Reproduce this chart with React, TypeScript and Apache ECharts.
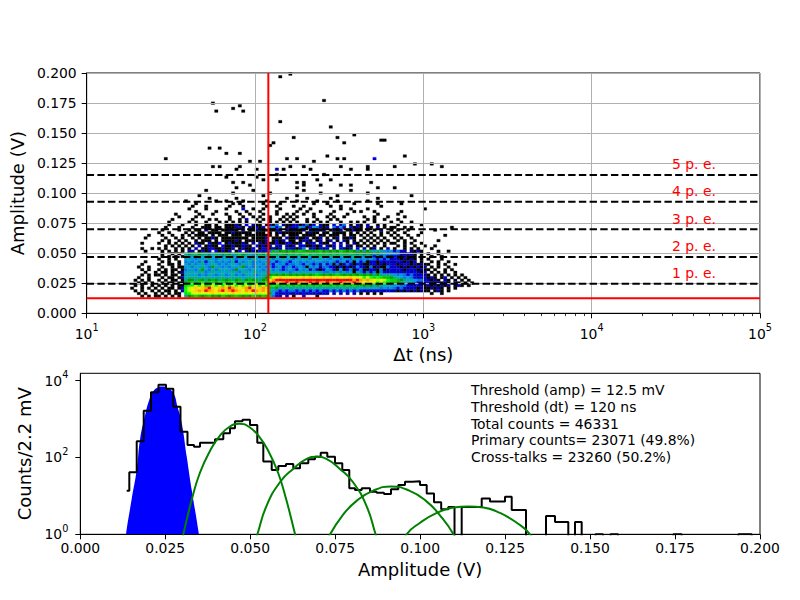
import React, { useEffect, useRef } from 'react';
import * as echarts from 'echarts';

const FONT = 'DejaVu Sans';

// ---------- top panel: 2D histogram (amplitude vs delta t) ----------
// rows listed from the highest amplitude bin (r40) down to r0; '.' = empty cell,
// '1'..'h' = colour level (black -> navy -> blue -> cyan -> green -> yellow -> red)
const HEAT_ROWS = [
  '.......... .......... ....1..... ........1. .......... ...1...... .......1..',
  '.......... .......... .......... ..1....... ...1...... ........1. .......... ..1.......',
  '.......... .......... ..1....... .......... .1........ .1........ ...1...... .......... .....1....',
  '.......... .......... .....1.... ...1...... ........1. ....1..... .1........ .....1....',
  '.......... ........1. .......1.. 1....1.... ..1....... .1.....1.. ...1...... ..1.......',
  '.......... .......... .1........ ..1.1..... .1....1... ......1... 1.......1. .....1.... ..1.......',
  '.......... .......... 1...1..... .1...1.... ..1..1.... 1..1...... .1..1..... ......1...',
  '.......... .........1 ....1..... 1....3..1. .1....1... ..1..1.... ....1..1.. ..1....... .........1',
  '.......... .......... .1.....1.. ...1..1... 1....1.... .1..1...1. ..1.....1. 1...1..... ..1.......',
  '.......... .....1.... ..1...1... 1...1..1.. .1...1..1. 1..1..1... .1....1... .....1.... .1........',
  '.......... ......1... .1.1...... .1...1..1. 1..1...1.1 .1....1... 1.1..1.... .1..1...1. ...1......',
  '.......... ....1..... 1....1.1.. .1..1.2..1 .1.1..1.1. 1...1..1.. .1.1...... ..1.1..1.. .1........',
  '.......... ...1.....1 .1..1...1. 1.1.1.1... 1..1.1.1.1 .1..1.1.1. 1...1..1.1 .1..1....1 ..1..1....',
  '.......... ...1...1.. .1..11.1.. 11121.3.21 1.1214.211 2312413.21 1.3.24.1.2 1.2..1.1.. .1......1. ..........',
  '.......... ..1...1... 1..111.11. 111231.212 12.4534.12 3254135421 2.4352.312 1.21.2.1.1 1..1.1.... .......1..',
  '.......... .1....1..1 .11.2.11.1 1211.2.112 2111121.21 2112.11212 .1212.1121 1.1.1.2..1 .1..1..... ..1.......',
  '.......... 1..1....1. 1.11.1111. 11211111.1 11.1.12111 111.1211.1 1.1111.1.1 .1.1..1.1. 1..1....1. ..........',
  '.......1.. .1..1..1.1 .1111.1.11 1.111.1111 1111.1.1.1 11.1111.11 .111.1.11. 1.1.1.1..1 .1..1..1.. .....1....',
  '......1... ..1..1.1.. 1.1.1121.1 1111111.11 112.111.21 12112.112. 1.12.1121. .1.1.1.1.. 1.1..1.... ..........',
  '.......... .1.1..1.1. .1.111.1.1 11121.1111 112.1212.1 1.1221.12. 12.1.21.1. 1.1.1.1.1. .1.1..1... ...1......',
  '.....1.... 1..1.1.1.1 .211.2113. 1211121.2. 2121131123 112.122.21 1.2.2.1.21 .1.1.1.1.1 1..1.1..1. ..........',
  '.......... ..1.1.1.1. 1.2.1211.3 11211221.3 1212.32.21 2.2311212. 212.2.21.1 1.1.1..1.. .1.1..1..1 ..1.......',
  '.....1..1. 1.1..1.1.1 .2.1123112 112.12113. 1321312.23 2134.23132 3.2.3212.3 .2.12.1.2. 1..1.1.1.. .1........',
  '......1... .1.1.1.1.2 2.1312.312 12.13.2121 3234978989 89a98989a8 9898a98987 8787676545 3432.2121. ...1..1...',
  '.......... .1..1.1.78 9a89786978 9879a89678 98a9a9a98a 9a9ab9a9a9 a9a9a99a98 9898787656 5432321.1. 1..1......',
  '.......... .1.1.1.165 5465645654 5645646545 5657565756 6567656576 5656565465 5454343432 3212121.1. .1..1.....',
  '.......... 1..1.1..56 5465675465 6574565476 5657465756 4565746565 5465455475 4545434342 3212121.1. 1...1.....',
  '......1... .1.1..1.45 4546356454 5463545645 4554534543 5545454554 4543452415 3412313232 2321212.1. .1.1..1...',
  '.....1.... 1..11.1.54 6457456545 4565475645 5464354534 4543543425 3414124313 2112312123 2123212121 1..1.1..1.',
  '....1..1.. .1..1.1156 4657548654 5465684546 4545345345 3454154524 4321313125 3214121142 3212121312 .1.1..1...',
  '.....1.1.. 1.1.11.145 5468546475 6548565465 5456454345 4354524213 5421513413 4113214123 2321232121 1.1..1.1..',
  '......1..1 .11.1.1256 6576457656 5675467567 5656565654 5656565654 4545454515 4343414323 3232323212 .1.1.1..1.',
  '.....1.1.1 1.1.11.156 5645465456 4564546564 5678989898 9898989a98 989a989898 9898787676 5454343232 1.1.1.1.1. 1......',
  '....1..1.. .1.11.1267 6756765767 5676756765 678bcdedcd dcdededcde dededcdedc cbcbaba998 7654543232 121.12.1.1 .1.......',
  '...1.1.1.. 1.1.11.178 8798789879 8978978989 789dfghggh ghghhgghgg hgghgghgfg fefedcdcba a987665443 2121.21.1. 1.1....',
  '....1.1.1. .1.11.1189 a9ab9aa9ba 9ab9a9bab9 9abfgfefgf fgfefgfgfe gfefgfefgf edcdcbcba9 9876554332 3212121.21 .1.1...',
  '...1.1..1. 1.1.1.11ab bcbcabcbcb cbcbcbcbcd bcbaba9a9a 9a9a9a9a9a a9a9a9a9a9 9898787665 5544332321 2121212.12 1.1....',
  '..1..1.1.1 .1.11.12bc dedefgedef egfedefged efe9786767 6767676767 7676767676 6565654545 4343232121 12121.1.1.',
  '...1.1..1. 1.11.1.2bc defegfedfg efgfedfegf efd7543434 4343434343 3434343434 3232323232 2121212121 1.121.1...',
  '....1.1..1 .1.1.11.ab cdcdcdedcd cdedcdcdce cdc8532323 2323232323 2.2.2.2.2. 1.1.1.1... .......... .1..1.....',
  '.....1.1.1 1.1.1.1.78 9a989a898a 989a9898a9 8a97432.2. 1..2...1.. .......... .......... ..........',
];
const HEAT_FIRST_COL = 11; // first column = log10 bin index (bins of 0.02 decade from 10 ns)
const LOG_BIN = 0.02;
const AMP_BIN_START = 0.0132;
const AMP_BIN = 0.0022;
const LEVEL_CHARS = '123456789abcdefgh';
const LEVEL_COLORS = [
  '#000000', '#0000aa', '#0000dd', '#0077dd', '#0099dd', '#00aaaa', '#00aa88', '#009900',
  '#00bb00', '#00dd00', '#00ff00', '#bbff00', '#eeee00', '#ffcc00', '#ff9900', '#ff0000', '#dd0000',
];
// isolated high-amplitude cells: [delta t (ns), amplitude (V), level]
const SPARSE_CELLS = [
  [160, 0.198, 1], [139, 0.196, 1], [55, 0.1753, 1], [59, 0.1675, 1], [83, 0.1725, 1], [74, 0.1703, 1],
  [87, 0.169, 1], [262, 0.177, 1], [139, 0.159, 1], [281, 0.155, 1], [53, 0.138, 1], [62, 0.137, 1],
  [83, 0.1335, 1], [67, 0.132, 1], [30, 0.128, 1], [95, 0.1266, 1], [106, 0.1274, 1], [130, 0.143, 1],
  [124, 0.139, 1], [169, 0.147, 1], [155, 0.128, 1], [177, 0.128, 1], [307, 0.146, 1], [340, 0.1426, 1],
  [381, 0.148, 1], [552, 0.1435, 1], [591, 0.144, 1], [792, 0.1316, 1], [1138, 0.1247, 1], [1274, 0.1224, 1],
  [505, 0.128, 3], [229, 0.1274, 1], [274, 0.13, 1], [307, 0.1288, 1], [336, 0.128, 1], [191, 0.1224, 1],
  [214, 0.119, 1], [256, 0.1163, 1], [132, 0.1205, 2], [149, 0.119, 1], [163, 0.1213, 1], [104, 0.121, 1],
  [55, 0.1224, 1], [62, 0.1213, 1], [76, 0.1205, 1], [83, 0.1213, 1], [321, 0.1224, 1], [368, 0.1205, 1],
  [472, 0.1213, 1], [472, 0.119, 1], [661, 0.1218, 1], [908, 0.1238, 1], [137, 0.115, 1], [136, 0.112, 1],
  [67, 0.1135, 1], [72.5, 0.1085, 1], [78.5, 0.105, 1], [104, 0.1135, 1], [111, 0.1108, 1], [179, 0.11, 1],
  [195, 0.1094, 1], [234, 0.112, 1], [281, 0.1108, 1], [321, 0.1075, 1], [245, 0.1075, 1], [368, 0.1066, 1],
  [483, 0.108, 1], [527, 0.104, 1], [661, 0.104, 1], [87, 0.108, 1], [95, 0.1075, 1], [179, 0.104, 1],
  [195, 0.1065, 1],
];
const PE_LEVELS = [0.0246, 0.0468, 0.07, 0.0928, 0.1152];
const PE_NAMES = ['1 p. e.', '2 p. e.', '3 p. e.', '4 p. e.', '5 p. e.'];
const PE_LABEL_DT = 30000;
const THRESHOLD_AMP = 0.0125;
const THRESHOLD_DT = 120;
const DT_DECADES = [1, 2, 3, 4, 5];
const MINOR_DT = [
  20, 30, 40, 50, 60, 70, 80, 90, 200, 300, 400, 500, 600, 700, 800, 900,
  2000, 3000, 4000, 5000, 6000, 7000, 8000, 9000, 20000, 30000, 40000, 50000, 60000, 70000, 80000, 90000,
];

// ---------- bottom panel: amplitude spectrum ----------
const HIST_X = [
  0.01365, 0.01442, 0.0166, 0.01866, 0.0208, 0.02301, 0.02522, 0.02737, 0.02948, 0.03154, 0.03346, 0.03522,
  0.03743, 0.03964, 0.04208, 0.04405, 0.04552, 0.04773, 0.04993, 0.05208, 0.05385, 0.05632, 0.05826, 0.06053,
  0.06267, 0.06465, 0.06709, 0.06906, 0.07074, 0.07268, 0.07495, 0.07709, 0.07915, 0.08083, 0.0828, 0.08524,
  0.08721, 0.08936, 0.09142, 0.09357, 0.09554, 0.09775, 0.09996, 0.10193, 0.10408, 0.10619, 0.10828, 0.11011,
  0.11222, 0.11811, 0.12055, 0.12497, 0.12694, 0.13115, 0.13704, 0.13968, 0.14359, 0.14556, 0.14753, 0.15159,
  0.1538, 0.15601, 0.15822, 0.17449, 0.17696, 0.19362, 0.19756,
];
const HIST_COUNTS = [
  13.7, 41, 265, 1650, 5000, 7800, 6100, 2100, 470, 211, 190, 243,
  243, 296, 425, 575, 870, 960, 700, 243, 78, 47, 60, 68,
  52, 71, 90, 105, 133, 105, 71, 47, 15.8, 14.2, 15.8, 12.9,
  12.1, 11.2, 14.9, 19.2, 23.4, 24, 19.2, 11.5, 6.8, 4.5, 5.1, 0,
  5.1, 8.6, 7.1, 9.5, 4.3, 0, 3.0, 2.1, 0, 2.1, 0, 1,
  0, 1, 0, 1, 0, 1, 0,
];
const PRIMARY_FIT = [
  [0.0128, 0.3], [0.01345, 1], [0.0151, 8], [0.0166, 48], [0.01757, 290], [0.019, 1180], [0.0203, 3200],
  [0.0215, 5300], [0.0228, 6600], [0.0242, 7000], [0.0256, 6400], [0.02737, 4770], [0.0286, 2100],
  [0.02984, 790], [0.0313, 107], [0.03278, 14.5], [0.0349, 1], [0.0356, 0.3],
];
const FIT_2PE = [
  [0.029, 0.35], [0.0303, 1], [0.0328, 8], [0.0352, 40], [0.0382, 150], [0.0411, 370], [0.044, 640],
  [0.0467, 755], [0.0495, 640], [0.0524, 370], [0.0553, 150], [0.0582, 40], [0.0606, 8], [0.0632, 1], [0.0645, 0.35],
];
const FIT_3PE = [
  [0.0505, 0.35], [0.0521, 1], [0.0548, 5.5], [0.0588, 23], [0.0627, 51], [0.0666, 92], [0.0695, 105],
  [0.0724, 92], [0.0763, 51], [0.0802, 23], [0.0842, 5.5], [0.0869, 1], [0.0885, 0.35],
];
const FIT_4PE = [
  [0.0715, 0.35], [0.0735, 1], [0.0774, 3.3], [0.0813, 7.4], [0.0862, 13.7], [0.0915, 17.5], [0.0968, 13.7],
  [0.1017, 7.4], [0.1056, 3.3], [0.1098, 1], [0.1118, 0.35],
];
const FIT_5PE = [
  [0.0935, 0.35], [0.096, 1], [0.1, 2.0], [0.1049, 3.6], [0.1098, 5.0], [0.1142, 5.3], [0.1186, 5.0],
  [0.1235, 3.6], [0.1284, 2.0], [0.1323, 1], [0.1348, 0.35],
];
const COUNT_DECADE_TICKS = [0, 2, 4];
const COUNT_MAX = 15500;
const INFO_LINES = [
  'Threshold (amp) = 12.5 mV',
  'Threshold (dt) = 120 ns',
  'Total counts = 46331',
  'Primary counts= 23071 (49.8%)',
  'Cross-talks = 23260 (50.2%)',
];

const lg = (c: number) => (c > 0 ? Math.log10(c) : -1);

function buildHeatCells() {
  const cells: number[][] = [];
  const n = HEAT_ROWS.length;
  HEAT_ROWS.forEach((row, k) => {
    const r = n - 1 - k;
    const s = row.replace(/ /g, '');
    for (let i = 0; i < s.length; i++) {
      const lv = LEVEL_CHARS.indexOf(s[i]);
      if (lv < 0) continue;
      const c = HEAT_FIRST_COL + i;
      cells.push([1 + LOG_BIN * c, 1 + LOG_BIN * (c + 1), AMP_BIN_START + AMP_BIN * r, AMP_BIN_START + AMP_BIN * (r + 1), lv]);
    }
  });
  SPARSE_CELLS.forEach(([dt, amp, lvl]) => {
    const c = Math.floor((Math.log10(dt) - 1) / LOG_BIN);
    const r = Math.floor((amp - AMP_BIN_START) / AMP_BIN);
    cells.push([1 + LOG_BIN * c, 1 + LOG_BIN * (c + 1), AMP_BIN_START + AMP_BIN * r, AMP_BIN_START + AMP_BIN * (r + 1), lvl - 1]);
  });
  return cells;
}

const tickFont = { fontFamily: FONT, fontSize: 13.9, color: '#000' };
const nameFont = { fontFamily: FONT, fontSize: 18, color: '#000' };
const powRich = {
  b: { fontFamily: FONT, fontSize: 13.9, color: '#000', lineHeight: 22 },
  s: { fontFamily: FONT, fontSize: 9.7, color: '#000', verticalAlign: 'top' as const },
};
const powFormatter = (v: number) => {
  if (Math.abs(v - Math.round(v)) > 1e-6) return '';
  return `{b|10}{s|${Math.round(v)}}`;
};
const gridLine = { show: true, lineStyle: { color: '#b0b0b0', width: 1 } };
const blackLine = { show: true, onZero: false, lineStyle: { color: '#000', width: 1 } };

function buildOption() {
  const heatCells = buildHeatCells();
  const logThrDt = Math.log10(THRESHOLD_DT);
  const peSeries = PE_LEVELS.map((lv) => ({
    type: 'line',
    xAxisIndex: 0,
    yAxisIndex: 0,
    data: [[DT_DECADES[0], lv], [DT_DECADES[DT_DECADES.length - 1], lv]],
    symbol: 'none',
    silent: true,
    z: 5,
    lineStyle: { color: '#000', width: 2, type: [7.4, 3.3] },
  }));
  const greenSeries = [FIT_2PE, FIT_3PE, FIT_4PE, FIT_5PE].map((pts) => ({
    type: 'line',
    xAxisIndex: 1,
    yAxisIndex: 1,
    data: pts.map(([x, c]) => [x, lg(c)]),
    smooth: true,
    symbol: 'none',
    silent: true,
    z: 6,
    lineStyle: { color: '#008000', width: 2 },
  }));

  return {
    animation: false,
    backgroundColor: '#fff',
    textStyle: { fontFamily: FONT },
    grid: [
      { left: 80.5, top: 73, width: 679.5, height: 240.3, show: true, borderColor: '#000', borderWidth: 1, backgroundColor: 'transparent' },
      { left: 80.3, top: 373.3, width: 679.7, height: 161, show: true, borderColor: '#000', borderWidth: 1, backgroundColor: 'transparent' },
    ],
    xAxis: [
      {
        type: 'value', gridIndex: 0, min: 1, max: 5, interval: 1, position: 'bottom', z: 3,
        axisLine: blackLine,
        axisTick: { show: true, length: 5, lineStyle: { color: '#000' } },
        axisLabel: { formatter: powFormatter, margin: 9.5, rich: powRich, ...tickFont },
        splitLine: gridLine,
        name: 'Δt (ns)', nameLocation: 'middle', nameGap: 32, nameTextStyle: nameFont,
      },
      {
        type: 'value', gridIndex: 1, min: 0, max: 0.2, interval: 0.025, position: 'bottom', z: 3,
        axisLine: blackLine,
        axisTick: { show: true, length: 5, lineStyle: { color: '#000' } },
        axisLabel: { formatter: (v: number) => v.toFixed(3), margin: 7, ...tickFont },
        splitLine: { show: false },
        name: 'Amplitude (V)', nameLocation: 'middle', nameGap: 26, nameTextStyle: nameFont,
      },
      {
        type: 'value', gridIndex: 0, min: 1, max: 5, position: 'bottom', z: 3,
        axisLine: { show: false, onZero: false },
        axisTick: { show: true, length: 2.8, customValues: MINOR_DT.map((d) => Math.log10(d)), lineStyle: { color: '#000', width: 0.8 } },
        axisLabel: { show: false },
        splitLine: { show: false },
      },
    ],
    yAxis: [
      {
        type: 'value', gridIndex: 0, min: 0, max: 0.2, interval: 0.025, z: 3,
        axisLine: blackLine,
        axisTick: { show: true, length: 5, lineStyle: { color: '#000' } },
        axisLabel: { formatter: (v: number) => v.toFixed(3), margin: 10, ...tickFont },
        splitLine: gridLine,
        name: 'Amplitude (V)', nameLocation: 'middle', nameGap: 55, nameRotate: 90, nameTextStyle: nameFont,
      },
      {
        type: 'value', gridIndex: 1, min: 0, max: Math.log10(COUNT_MAX), interval: 2, z: 3,
        axisLine: blackLine,
        axisTick: { show: true, length: 5, customValues: COUNT_DECADE_TICKS, lineStyle: { color: '#000' } },
        axisLabel: { formatter: powFormatter, customValues: COUNT_DECADE_TICKS, margin: 12, rich: powRich, ...tickFont },
        splitLine: { show: false },
        name: 'Counts/2.2 mV', nameLocation: 'middle', nameGap: 41, nameRotate: 90, nameTextStyle: nameFont,
      },
    ],
    graphic: [
      {
        type: 'text', left: 471, top: 382, z: 10,
        style: { text: INFO_LINES.join('\n'), fill: '#000', fontFamily: FONT, fontSize: 13.9, lineHeight: 16.7 },
      },
    ],
    series: [
      {
        type: 'custom',
        xAxisIndex: 0,
        yAxisIndex: 0,
        z: 2,
        silent: true,
        data: heatCells,
        encode: { x: [0, 1], y: [2, 3] },
        renderItem: (_params: any, api: any) => {
          const p0 = api.coord([api.value(0), api.value(3)]);
          const p1 = api.coord([api.value(1), api.value(2)]);
          const col = LEVEL_COLORS[api.value(4)];
          return {
            type: 'rect',
            shape: { x: p0[0], y: p0[1], width: p1[0] - p0[0], height: p1[1] - p0[1] },
            style: { fill: col, stroke: col, lineWidth: 0.3 },
          };
        },
      },
      ...peSeries,
      {
        type: 'line', xAxisIndex: 0, yAxisIndex: 0, symbol: 'none', silent: true, z: 5,
        data: [[DT_DECADES[0], THRESHOLD_AMP], [DT_DECADES[DT_DECADES.length - 1], THRESHOLD_AMP]],
        lineStyle: { color: '#ff0000', width: 2 },
      },
      {
        type: 'line', xAxisIndex: 0, yAxisIndex: 0, symbol: 'none', silent: true, z: 5,
        data: [[logThrDt, 0], [logThrDt, 0.2]],
        lineStyle: { color: '#ff0000', width: 2 },
      },
      {
        type: 'custom', xAxisIndex: 0, yAxisIndex: 0, z: 7, silent: true,
        data: PE_LEVELS.map((lv, i) => [Math.log10(PE_LABEL_DT), lv, i]),
        renderItem: (_params: any, api: any) => {
          const p = api.coord([api.value(0), api.value(1)]);
          return {
            type: 'text',
            x: p[0],
            y: p[1] - 10.6,
            style: {
              text: PE_NAMES[api.value(2)], fill: '#ff0000', fontFamily: FONT, fontSize: 13.9,
              align: 'left', verticalAlign: 'middle', textAlign: 'left', textVerticalAlign: 'middle',
            },
          };
        },
      },
      {
        type: 'line', xAxisIndex: 1, yAxisIndex: 1, symbol: 'none', silent: true, z: 2, smooth: true,
        data: PRIMARY_FIT.map(([x, c]) => [x, lg(c)]),
        lineStyle: { color: '#0000ff', width: 0 },
        areaStyle: { color: '#0000ff', opacity: 1, origin: 'start' },
      },
      {
        type: 'line', xAxisIndex: 1, yAxisIndex: 1, symbol: 'none', silent: true, z: 4, step: 'end',
        data: HIST_X.map((x, i) => [x, lg(HIST_COUNTS[i])]),
        lineStyle: { color: '#000', width: 2 },
      },
      ...greenSeries,
    ],
  };
}

export default function App() {
  const ref = useRef<HTMLDivElement>(null);
  useEffect(() => {
    if (!ref.current) return;
    const chart = echarts.init(ref.current, null, { renderer: 'svg', width: 800, height: 600 });
    chart.setOption(buildOption() as any);
    return () => chart.dispose();
  }, []);
  return <div ref={ref} style={{ position: 'absolute', left: 0, top: 0, width: 800, height: 600 }} />;
}
